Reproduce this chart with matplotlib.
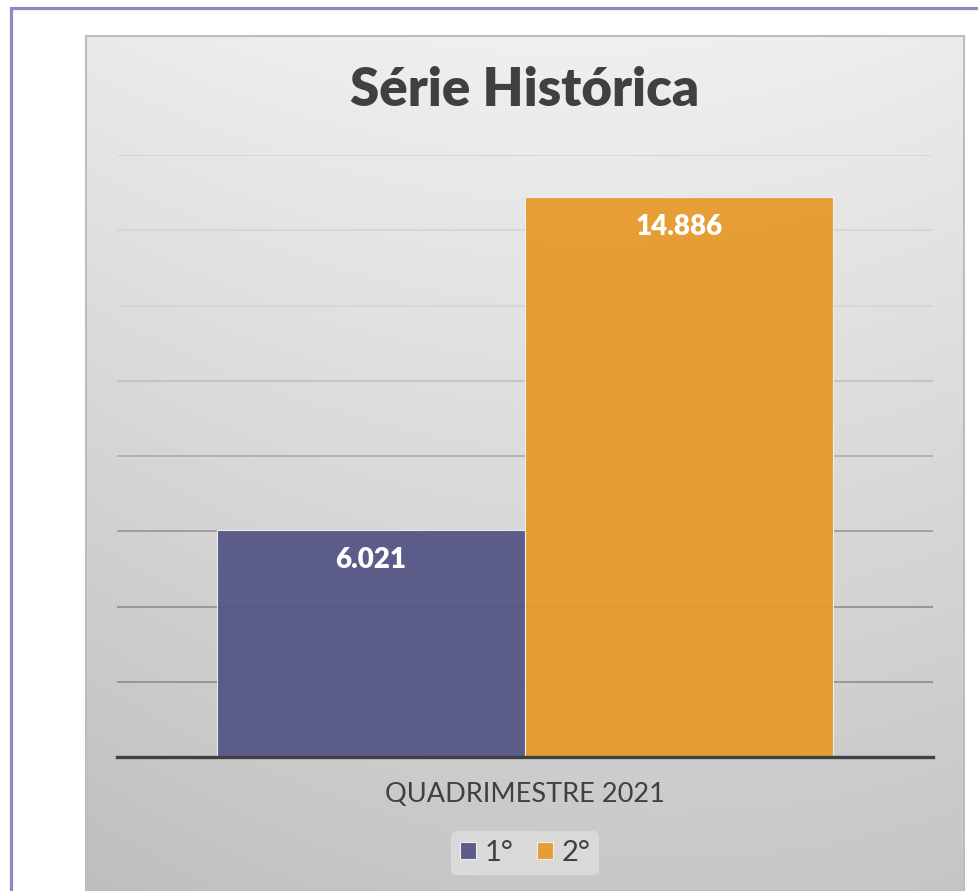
import numpy as np
import matplotlib
matplotlib.use('Agg')
import matplotlib.pyplot as plt
from matplotlib.patches import Rectangle

# Data
categories = ['QUADRIMESTRE 2021']
series_names = ['1°', '2°']
series_values = [6021, 14886]
series_colors = ['#565687', '#E69A2B']
y_ticks = [0, 2000, 4000, 6000, 8000, 10000, 12000, 14000, 16000]

W, H = 979, 891
fig = plt.figure(figsize=(W / 100, H / 100), dpi=100)
fig.patch.set_facecolor('white')
plt.rcParams['font.family'] = ['Lato', 'DejaVu Sans']

# Purple outer frame
fig.patches.append(Rectangle((11 / W, -0.1), 1.2, 1.1 - 7.5 / H, transform=fig.transFigure,
                             fill=False, edgecolor='#8A8AC6', linewidth=2.3))

# Gray gradient panel
px0, px1, py0 = 86, 964, 36
bg = fig.add_axes([px0 / W, 0, (px1 - px0) / W, 1 - py0 / H])
gy, gx = np.mgrid[0:1:200j, 0:1:200j]
shade = 0.94 - 0.17 * (1 - gy)
shade = shade - 0.08 * (np.abs(gx - 0.55) ** 2)
shade = shade + 0.02 * gx * (1 - gy)
img = np.dstack([shade, shade, shade])
bg.imshow(img, origin='lower', extent=[0, 1, 0, 1], aspect='auto', interpolation='bilinear')
bg.set_xticks([])
bg.set_yticks([])
for s in bg.spines.values():
    s.set_color('#BDBDBD')
    s.set_linewidth(1.5)

# Plot area
ax_l, ax_r, ax_t, ax_b = 117, 933, 155, 757
ax = fig.add_axes([ax_l / W, 1 - ax_b / H, (ax_r - ax_l) / W, (ax_b - ax_t) / H])
ax.patch.set_alpha(0)
ax.set_xlim(-0.5, 0.5)
ax.set_ylim(0, y_ticks[-1])

# gridlines, lighter towards the top
for t in y_ticks[1:]:
    frac = t / y_ticks[-1]
    g = 0.55 + 0.28 * np.clip((frac - 0.3) / 0.45, 0, 1)
    ax.axhline(t, color=(g, g, g), linewidth=1.2, zorder=1)

x = np.arange(len(categories))
width = 0.378
for i, (name, val, col) in enumerate(zip(series_names, series_values, series_colors)):
    offset = (i - 0.5) * width
    bars = ax.bar(x + offset, [val], width, color=col, edgecolor='#F2F2F2', linewidth=0.8,
                  alpha=0.95, label=name, zorder=2)
    for b in bars:
        ax.annotate(f'{int(b.get_height()):,}'.replace(',', '.'),
                    (b.get_x() + b.get_width() / 2, b.get_height()),
                    xytext=(0, -21.5), textcoords='offset points', ha='center', va='center',
                    color='white', fontsize=20, fontweight='heavy', zorder=3)

ax.set_yticks([])
ax.set_xticks(x)
ax.set_xticklabels(categories, fontsize=19.5, color='#404040')
ax.tick_params(axis='x', length=0, pad=18)
for side in ['left', 'right', 'top']:
    ax.spines[side].set_visible(False)
ax.spines['bottom'].set_color('#404040')
ax.spines['bottom'].set_linewidth(2.4)
ax.spines['bottom'].set_zorder(4)

fig.text(525 / W, 1 - 91 / H, 'Série Histórica', ha='center', va='center',
         fontsize=38, fontweight='heavy', color='#404040')

leg = fig.legend(loc='center', bbox_to_anchor=(525 / W, 1 - 853 / H), ncol=2,
                 fontsize=21, frameon=True, handlelength=0.55, handleheight=0.55,
                 handletextpad=0.3, columnspacing=0.8, borderpad=0.3)
leg.get_frame().set_facecolor('#D9D9D9')
leg.get_frame().set_edgecolor('none')
leg.get_frame().set_alpha(1)
for t in leg.get_texts():
    t.set_color('#404040')

fig.savefig('out.png', dpi=100)
